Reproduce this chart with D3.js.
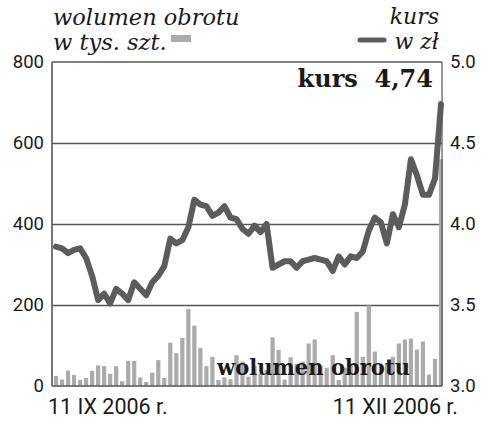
<!DOCTYPE html>
<html><head><meta charset="utf-8">
<script src="https://cdn.jsdelivr.net/npm/d3@7/dist/d3.min.js"></script>
<style>
html,body{margin:0;padding:0;background:#fff;}
svg{display:block;}
</style>
</head><body>
<svg id="chart" width="500" height="430"></svg>
<script>
// ---- data ----
const volume = [25,16,38,27,15,20,37,51,49,30,49,12,62,62,21,10,33,64,20,107,81,119,190,149,94,49,72,15,21,17,76,60,23,49,30,40,120,89,16,71,55,60,105,115,50,45,76,15,45,55,183,72,199,85,50,55,72,105,115,117,90,110,28,67,560];
const price = [3.86,3.85,3.82,3.84,3.85,3.79,3.68,3.53,3.57,3.51,3.60,3.57,3.53,3.64,3.60,3.56,3.64,3.68,3.74,3.91,3.88,3.90,3.98,4.15,4.12,4.11,4.05,4.07,4.11,4.04,4.03,3.97,3.94,3.99,3.95,4.00,3.73,3.75,3.77,3.77,3.73,3.77,3.78,3.79,3.78,3.77,3.71,3.80,3.75,3.80,3.79,3.83,3.96,4.04,4.01,3.88,4.06,3.98,4.12,4.40,4.30,4.18,4.18,4.28,4.74];
const leftTicks = [0,200,400,600,800];
const rightTicks = [3.0,3.5,4.0,4.5,5.0];
const dateLabels = ["11 IX 2006 r.","11 XII 2006 r."];
const titleLeft = ["wolumen obrotu","w tys. szt."];
const titleRight = ["kurs","w zł"];
const lastLabel = "kurs  4,74";
const volLabel = "wolumen obrotu";

// ---- layout ----
const svg = d3.select("#chart");
const L = 52, R = 442, T = 62, B = 386;
const idx = d3.range(volume.length);
const x = d3.scaleBand().domain(idx).range([L+1, R+2]).paddingInner(0.3).paddingOuter(0.15);
const yL = d3.scaleLinear().domain([0,800]).range([B,T]);
const yR = d3.scaleLinear().domain([3,5]).range([B,T]);
const dark = "#555555", barCol = "#ababab", lineCol = "#5c5c5c";
const numFont = "Roboto, 'DejaVu Sans', sans-serif";

// gridlines
svg.append("g").attr("transform",`translate(${L},0)`)
  .call(d3.axisLeft(yL).tickValues([200,400,600]).tickSize(-(R-L)).tickFormat(""))
  .call(g=>g.select(".domain").remove())
  .call(g=>g.selectAll("line").attr("stroke",dark).attr("stroke-width",1.6));

// bars
svg.append("g").selectAll("rect").data(volume).join("rect")
  .attr("x",(d,i)=>x(i)).attr("width",x.bandwidth())
  .attr("y",d=>yL(d)).attr("height",d=>B-yL(d))
  .attr("fill",barCol);

// volume label
svg.append("text").attr("x",217).attr("y",375)
  .attr("font-family","'DejaVu Serif', serif").attr("font-weight","bold")
  .attr("font-size",23).attr("fill","#1a1a1a").attr("textLength",193)
  .attr("lengthAdjust","spacingAndGlyphs").text(volLabel);

// frame
const frame = svg.append("g").attr("stroke",dark).attr("stroke-width",1.6).attr("fill","none");
frame.append("line").attr("x1",L).attr("x2",L).attr("y1",T).attr("y2",B);
frame.append("line").attr("x1",L).attr("x2",R).attr("y1",T).attr("y2",T);
frame.append("line").attr("x1",R).attr("x2",R).attr("y1",T).attr("y2",B).attr("stroke-width",1.2);
frame.append("line").attr("x1",L).attr("x2",R).attr("y1",B).attr("y2",B);

// price line
const line = d3.line().x((d,i)=>x(i)+x.bandwidth()/2).y(d=>yR(d));
svg.append("path").datum(price).attr("d",line)
  .attr("fill","none").attr("stroke",lineCol).attr("stroke-width",6)
  .attr("stroke-linejoin","round").attr("stroke-linecap","round");

// left axis labels
svg.append("g").attr("transform",`translate(${L},0)`)
  .call(d3.axisLeft(yL).tickValues(leftTicks).tickSize(0).tickPadding(8).tickFormat(d3.format("d")))
  .call(g=>g.select(".domain").remove())
  .call(g=>g.selectAll("text").attr("font-family",numFont).attr("font-size",18.5).attr("fill","#1a1a1a"));

// right axis labels
svg.append("g").attr("transform",`translate(${R},0)`)
  .call(d3.axisRight(yR).tickValues(rightTicks).tickSize(0).tickPadding(8).tickFormat(d3.format(".1f")))
  .call(g=>g.select(".domain").remove())
  .call(g=>g.selectAll("text").attr("font-family",numFont).attr("font-size",18.5).attr("fill","#1a1a1a"));

// date labels
svg.append("text").attr("x",48).attr("y",414).attr("font-family",numFont).attr("font-size",21.5)
  .attr("fill","#1a1a1a").text(dateLabels[0]);
svg.append("text").attr("x",458).attr("y",414).attr("text-anchor","end").attr("font-family",numFont).attr("font-size",21.5)
  .attr("fill","#1a1a1a").text(dateLabels[1]);

// titles
const serifI = "'DejaVu Serif', 'Liberation Serif', serif";
svg.append("text").attr("x",53).attr("y",25).attr("font-family",serifI).attr("font-style","italic")
  .attr("font-size",22.5).attr("fill","#1a1a1a").text(titleLeft[0]);
svg.append("text").attr("x",53).attr("y",50).attr("font-family",serifI).attr("font-style","italic")
  .attr("font-size",22.5).attr("fill","#1a1a1a").text(titleLeft[1]);
svg.append("rect").attr("x",171).attr("y",35).attr("width",20).attr("height",7).attr("fill",barCol);

svg.append("text").attr("x",439).attr("y",24).attr("text-anchor","end").attr("font-family",serifI).attr("font-style","italic")
  .attr("font-size",22).attr("fill","#1a1a1a").text(titleRight[0]);
svg.append("text").attr("x",439).attr("y",49).attr("text-anchor","end").attr("font-family",serifI).attr("font-style","italic")
  .attr("font-size",22).attr("fill","#1a1a1a").text(titleRight[1]);
svg.append("line").attr("x1",360).attr("x2",384).attr("y1",40).attr("y2",40)
  .attr("stroke",lineCol).attr("stroke-width",5).attr("stroke-linecap","round");

// last value
svg.append("text").attr("x",433).attr("y",87).attr("text-anchor","end")
  .attr("font-family","'DejaVu Serif', serif").attr("font-weight","bold").attr("font-size",24)
  .attr("fill","#1a1a1a").attr("xml:space","preserve").style("white-space","pre").text(lastLabel);
</script>
</body></html>
